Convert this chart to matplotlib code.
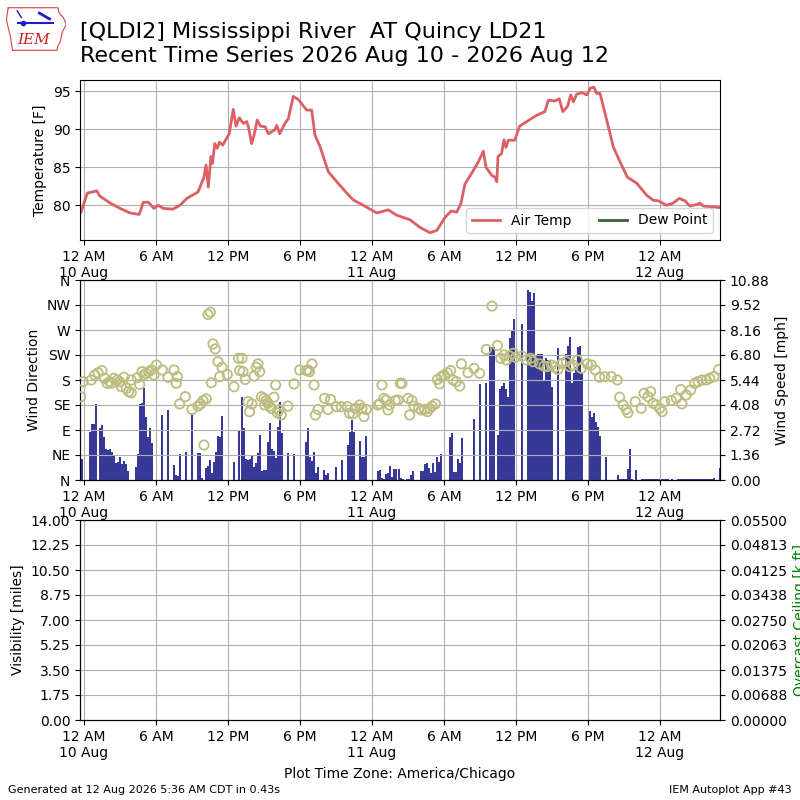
import datetime
import numpy as np
import matplotlib
matplotlib.use("Agg")
import matplotlib.pyplot as plt
from matplotlib.ticker import FixedLocator, FormatStrFormatter, MultipleLocator

# data (hours after 2026-08-10 00:00 local time)
temp_hours = [-0.25, 0.28, 1.06, 1.33, 2.17, 3.0, 3.83, 4.6, 4.94, 5.36, 5.83, 6.2, 6.6,
              7.4, 8.0, 8.56, 9.5, 10.0, 10.17, 10.36, 10.58, 10.7, 10.9, 11.1, 11.3,
              11.56, 12.1, 12.44, 12.67, 12.94, 13.28, 13.56, 13.7, 13.97, 14.2, 14.44,
              14.7, 15.1, 15.36, 15.9, 16.06, 16.3, 16.75, 17.03, 17.44, 17.86, 18.56,
              18.97, 19.25, 19.67, 20.36, 21.06, 21.9, 22.44, 23.28, 24.4, 25.36, 26.06,
              27.17, 28.0, 28.83, 29.4, 30.08, 30.6, 31.06, 31.4, 31.75, 32.3, 32.86,
              33.28, 33.5, 34.0, 34.25, 34.4, 34.5, 34.8, 35.0, 35.17, 35.36, 35.9, 36.3,
              36.9, 37.7, 38.4, 38.7, 39.25, 39.6, 39.9, 40.3, 40.56, 40.78, 41.06, 41.5,
              41.9, 42.2, 42.5, 42.7, 43.0, 43.56, 44.1, 44.67, 45.28, 46.06, 46.9, 47.44,
              47.86, 48.56, 49.1, 49.6, 50.08, 50.5, 51.06, 51.33, 51.6, 53.0]
temp_f = [79.1, 81.6, 81.9, 81.2, 80.3, 79.6, 79.0, 78.8, 80.4, 80.4, 79.6, 80.0, 79.6,
          79.5, 80.0, 80.9, 81.75, 83.7, 85.3, 82.4, 86.4, 85.5, 88.1, 87.5, 88.3,
          87.9, 89.4, 92.6, 90.4, 91.5, 90.75, 91.0, 90.3, 88.1, 89.4, 91.2,
          90.4, 90.3, 89.4, 89.9, 90.5, 89.4, 90.75, 91.4, 94.3, 93.9, 92.5,
          92.5, 89.2, 87.7, 84.4, 83.1, 81.6, 80.7, 80.0, 79.0, 79.4, 78.7,
          78.1, 77.1, 76.4, 76.7, 78.4, 79.25, 79.1, 80.2, 82.8, 84.2, 85.7,
          87.1, 85.0, 83.9, 83.7, 83.1, 86.4, 86.8, 88.6, 87.6, 88.55, 88.55, 90.4,
          91.0, 91.8, 92.3, 93.8, 93.7, 94.0, 92.3, 93.0, 94.5, 93.6, 94.6, 94.8,
          94.5, 95.4, 95.5, 94.7, 94.7, 91.2, 87.7, 85.7, 83.7, 82.9, 81.3, 80.66,
          80.6, 80.0, 80.3, 80.9, 80.6, 79.9, 80.1, 80.3, 79.9, 79.7]

wind_hours = [-0.19, 0.53, 0.69, 0.86, 1.03, 1.31, 1.47, 1.64, 1.81, 1.97, 2.14, 2.31, 2.47,
              2.64, 2.81, 2.97, 3.14, 3.31, 3.47, 3.64, 4.31, 4.47, 4.64, 4.81, 4.97,
              5.14, 5.31, 5.47, 5.64, 6.47, 6.97, 7.5, 7.64, 7.81, 7.97, 8.47, 8.97,
              9.47, 9.64, 9.81, 10.14, 10.31, 10.47, 10.64, 10.81, 10.97, 11.14, 11.31,
              11.47, 12.5, 12.92, 13.14, 13.31, 13.47, 13.64, 13.81, 13.97, 14.14, 14.31,
              14.47, 14.64, 14.81, 14.97, 15.14, 15.31, 15.47, 15.64, 15.81, 15.97, 16.14,
              16.31, 16.47, 16.97, 17.47, 18.47, 18.64, 18.81, 18.97, 19.14, 19.31, 19.47,
              19.97, 20.14, 20.31, 20.97, 21.47, 21.97, 22.14, 22.31, 22.47, 22.97, 23.14,
              23.31, 23.47, 24.47, 24.64, 24.81, 24.97, 25.14, 25.31, 25.47, 25.64, 25.81,
              25.97, 26.25, 26.42, 26.58, 26.92, 27.08, 27.25, 27.42, 28.08, 28.25, 28.42,
              28.58, 28.75, 28.92, 29.08, 29.25, 29.42, 29.58, 29.75, 30.47, 30.64, 30.81,
              30.97, 31.14, 31.31, 31.47, 32.47, 32.97, 33.47, 33.81, 33.97, 34.14, 34.47,
              34.64, 34.81, 34.97, 35.14, 35.31, 35.47, 35.64, 35.81, 36.47, 36.97, 37.14,
              37.31, 37.47, 37.64, 37.81, 37.97, 38.14, 38.31, 38.47, 38.64, 38.81, 38.97,
              39.47, 40.14, 40.31, 40.47, 40.64, 40.81, 40.97, 41.14, 41.31, 41.47, 42.14,
              42.31, 42.47, 42.64, 42.81, 42.97, 43.47, 44.47, 44.64, 44.81, 44.97, 45.14,
              45.31, 45.47, 45.64, 45.97, 46.47, 46.64, 46.81, 46.97, 47.14, 47.31, 47.47,
              47.64, 47.81, 47.97, 48.14, 48.31, 48.47, 48.64, 48.97, 49.47, 49.64, 49.81,
              49.97, 50.14, 50.31, 50.47, 50.64, 50.81, 50.97, 51.14, 51.31, 51.47, 51.64,
              51.81, 51.97, 52.14, 52.31, 52.53, 52.97]
wind_mph = [1.14, 2.63, 3.05, 3.05, 4.13, 2.85, 2.97, 2.36, 1.67, 1.63, 1.69, 1.54, 1.36,
            0.9, 1.0, 1.23, 0.87, 1.05, 0.87, 0.5, 0.69, 1.41, 4.13, 4.2, 4.99,
            3.44, 2.36, 2.81, 2.0, 3.54, 3.81, 0.82, 0.27, 0.22, 1.41, 1.52, 3.63,
            1.45, 1.45, 0.09, 0.63, 0.76, 1.09, 0.36, 1.0, 1.54, 2.39, 2.36,
            3.48, 1.0, 2.68, 4.53, 2.81, 1.12, 1.09, 1.14, 1.31, 0.73, 0.94,
            1.45, 2.45, 0.51, 0.54, 0.54, 2.09, 3.08, 1.67, 1.6, 1.18, 2.9,
            4.26, 2.57, 1.45, 1.41, 2.05, 2.81, 1.27, 1.03, 1.5, 0.36, 0.69,
            0.54, 0.27, 0.4, 0.69, 1.09, 1.9, 2.63, 3.26, 2.63, 2.12, 1.27,
            1.27, 2.39, 0.49, 0.54, 0.13, 0.04, 0.33, 0.36, 0.76, 0.18, 0.6,
            0.6, 0.6, 0.09, 0.04, 0.04, 0.07, 0.27, 0.51, 0.51, 0.51, 0.87,
            0.9, 0.67, 0.4, 0.9, 0.45, 1.27, 1.0, 1.41, 2.36, 2.54, 0.45,
            0.45, 1.12, 0.9, 2.27, 3.3, 5.22, 5.26, 7.22, 7.22, 7.22, 2.45,
            4.93, 5.11, 5.26, 4.93, 4.5, 7.71, 8.12, 8.74, 8.49, 10.34, 10.23,
            9.76, 10.15, 6.8, 6.85, 6.85, 6.85, 5.44, 6.62, 6.53, 6.53, 5.08,
            7.16, 6.85, 7.29, 7.8, 5.3, 5.8, 6.16, 7.25, 7.29, 5.9, 3.75,
            3.44, 3.63, 3.17, 2.9, 2.39, 1.23, 0.27, 0.04, 0.04, 0.04, 0.04,
            0.58, 1.67, 0.04, 0.54, 0.05, 0.05, 0.05, 0.05, 0.05, 0.05, 0.05,
            0.05, 0.05, 0.05, 0.05, 0.05, 0.05, 0.05, 0.05, 0.05, 0.05, 0.05,
            0.05, 0.05, 0.05, 0.05, 0.05, 0.05, 0.05, 0.05, 0.05, 0.05, 0.05,
            0.05, 0.05, 0.05, 0.05, 0.09, 0.63]

dir_hours = [-0.28, -0.08, 0.61, 0.89, 1.17, 1.5, 1.72, 1.94, 2.14, 2.28, 2.5, 2.78, 2.97,
             3.11, 3.33, 3.53, 3.72, 3.94, 3.94, 4.44, 4.64, 4.83, 5.0, 5.19, 5.39, 5.61,
             5.83, 6.03, 6.53, 7.0, 7.5, 7.78, 7.69, 7.97, 8.44, 9.0, 9.5, 9.72, 9.92,
             10.19, 10.0, 10.33, 10.53, 10.75, 10.94, 10.61, 11.17, 11.5, 11.31, 11.94,
             12.5, 12.89, 12.97, 13.17, 13.25, 13.44, 13.67, 13.8, 14.0, 14.17, 14.36,
             14.5, 14.64, 14.78, 15.0, 15.19, 15.05, 15.33, 15.47, 15.6, 15.83, 15.97,
             16.11, 16.22, 16.44, 17.0, 17.5, 17.97, 18.53, 18.67, 18.8, 19.0, 19.17,
             19.28, 19.5, 20.05, 20.33, 20.55, 21.03, 21.44, 21.94, 22.14, 22.42, 22.61,
             22.97, 23.16, 23.33, 23.53, 24.5, 24.64, 24.83, 25.0, 25.19, 25.33, 25.47,
             25.94, 26.36, 26.17, 26.5, 27.0, 27.14, 27.33, 27.5, 27.89, 28.11, 28.39,
             28.61, 28.81, 29.0, 29.28, 29.45, 29.64, 29.78, 30.0, 30.28, 30.56, 30.75,
             31.03, 31.31, 31.45, 32.0, 32.5, 32.97, 33.53, 34.0, 34.45, 34.72, 35.0,
             35.2, 35.47, 35.75, 35.95, 36.5, 36.86, 37.22, 37.42, 37.97, 38.33, 38.61,
             38.95, 39.22, 39.5, 39.83, 40.19, 40.47, 40.75, 41.11, 41.44, 41.94, 42.28,
             42.61, 42.97, 43.39, 43.94, 44.44, 44.64, 44.92, 45.19, 45.33, 45.94, 46.44,
             46.67, 47.0, 47.22, 47.42, 47.69, 47.97, 48.17, 48.39, 48.94, 49.36, 49.72,
             49.83, 50.19, 50.56, 50.89, 51.17, 51.5, 51.86, 52.14, 52.5, 52.89]
dir_deg = [150, 177, 180, 189, 193, 197, 183, 174, 177, 174, 183, 180, 177,
           168, 185, 165, 159, 157, 180, 184, 172, 195, 189, 192, 195, 198,
           189, 207, 198, 185, 198, 186, 174, 137, 150, 127, 133, 137, 143,
           146, 63, 298, 302, 245, 236, 175, 213, 203, 186, 190,
           168, 219, 197, 219, 195, 181, 141, 123, 137, 187, 203,
           209, 195, 150, 147, 143, 135, 138, 133, 129, 149, 171,
           121, 126, 117, 133, 173, 198, 197, 198, 195, 209, 171,
           117, 127, 147, 127, 145, 132, 132, 132, 120, 119, 129,
           135, 129, 114, 127, 135, 137, 171, 147, 144, 126, 135,
           143, 174, 144, 174, 147, 117, 143, 133, 129, 126, 127,
           123, 129, 133, 137, 181, 173, 186, 189, 193, 197, 180,
           177, 169, 209, 193, 201, 192, 235, 313, 242, 219, 225,
           216, 223, 228, 221, 223, 216, 219, 213, 209, 205, 204,
           207, 203, 199, 210, 213, 204, 207, 216, 201, 209, 207,
           198, 185, 186, 186, 180, 149, 135, 127, 121, 141, 129,
           156, 150, 159, 138, 135, 129, 123, 141, 143, 147, 163,
           137, 153, 162, 174, 177, 180, 180, 183, 186, 199]

tick_hours = [0, 6, 12, 18, 24, 30, 36, 42, 48]
tick_labels = ["12 AM\n10 Aug", "6 AM", "12 PM", "6 PM", "12 AM\n11 Aug",
               "6 AM", "12 PM", "6 PM", "12 AM\n12 Aug"]
dir_labels = ["N", "NE", "E", "SE", "S", "SW", "W", "NW", "N"]

base = datetime.datetime(2026, 8, 10)
def to_time(hours):
    return [base + datetime.timedelta(hours=h) for h in hours]

xlim = to_time([-1 / 3, 53])
ticks = to_time(tick_hours)

fig = plt.figure(figsize=(8, 8), dpi=100)

def time_axis(ax):
    ax.set_xlim(xlim)
    ax.set_xticks(ticks)
    ax.set_xticklabels(tick_labels)
    ax.grid(True)

# temperature
ax1 = fig.add_axes([0.1, 0.7, 0.8, 0.2])
ax1.plot(to_time(temp_hours), temp_f, color="#db6065", lw=2, label="Air Temp")
ax1.plot([], [], color="#346633", lw=2, label="Dew Point")
ax1.yaxis.set_major_locator(MultipleLocator(5))
ax1.set_ylabel("Temperature [F]")
time_axis(ax1)
ax1.legend(loc="lower right", ncol=2)

# wind
ax2 = fig.add_axes([0.1, 0.4, 0.8, 0.25])
ax2b = ax2.twinx()
ax2b.bar(to_time(wind_hours), wind_mph, width=datetime.timedelta(minutes=10),
         color="#383898", zorder=2)
ax2b.set_ylim(0, 10.88)
ax2b.yaxis.set_major_locator(FixedLocator(np.linspace(0, 10.88, 9)))
ax2b.yaxis.set_major_formatter(FormatStrFormatter("%.2f"))
ax2b.set_ylabel("Wind Speed [mph]")
ax2.set_zorder(ax2b.get_zorder() + 1)
ax2.patch.set_visible(False)
ax2.scatter(to_time(dir_hours), dir_deg, s=45, facecolors="none",
            edgecolors="#bdbd80", linewidths=1.3, zorder=3)
ax2.set_ylim(0, 360)
ax2.set_yticks(range(0, 361, 45))
ax2.set_yticklabels(dir_labels)
ax2.set_ylabel("Wind Direction")
time_axis(ax2)

# visibility / ceiling
ax3 = fig.add_axes([0.1, 0.1, 0.8, 0.25])
ax3.set_ylim(0, 14)
ax3.set_yticks(np.linspace(0, 14, 9))
ax3.yaxis.set_major_formatter(FormatStrFormatter("%.2f"))
ax3.set_ylabel("Visibility [miles]")
time_axis(ax3)
ax3b = ax3.twinx()
ax3b.set_ylim(0, 0.055)
ax3b.set_yticks(np.linspace(0, 0.055, 9))
ax3b.yaxis.set_major_formatter(FormatStrFormatter("%.5f"))
ax3b.set_ylabel("Overcast Ceiling [k ft]", color="g")

# titles and footer
fig.text(0.1, 0.973, "[QLDI2] Mississippi River  AT Quincy LD21\n"
         "Recent Time Series 2026 Aug 10 - 2026 Aug 12",
         fontsize=16, va="top", ha="left", linespacing=1.3)
fig.text(0.5, 0.032, "Plot Time Zone: America/Chicago", ha="center", va="center")
fig.text(0.01, 0.012, "Generated at 12 Aug 2026 5:36 AM CDT in 0.43s",
         fontsize=8, va="center")
fig.text(0.99, 0.012, "IEM Autoplot App #43", fontsize=8, ha="right", va="center")

# rough IEM logo
logo = fig.add_axes([0.008, 0.936, 0.075, 0.056])
logo.set_xlim(0, 1)
logo.set_ylim(0, 1)
logo.axis("off")
outline = [(0.03, 0.97), (0.86, 0.97), (0.88, 0.85), (0.95, 0.75), (1.0, 0.6),
           (0.93, 0.42), (0.9, 0.22), (0.86, 0.12), (0.84, 0.02), (0.1, 0.02),
           (0.07, 0.3), (0.0, 0.7), (0.03, 0.97)]
logo.plot([p[0] for p in outline], [p[1] for p in outline], color="#e04040", lw=0.8)
logo.plot([0.2, 0.78], [0.62, 0.62], color="#2020c0", lw=1.5)
logo.plot([0.28], [0.62], "o", color="#2020c0", ms=3)
logo.plot([0.55, 0.72], [0.85, 0.72], color="#2020c0", lw=2)
logo.plot([0.18, 0.25], [0.9, 0.75], color="#2020c0", lw=1)
logo.text(0.45, 0.25, "IEM", color="#d02020", fontsize=11, style="italic",
          family="DejaVu Serif", ha="center", va="center")

fig.savefig("out.png", dpi=100)
